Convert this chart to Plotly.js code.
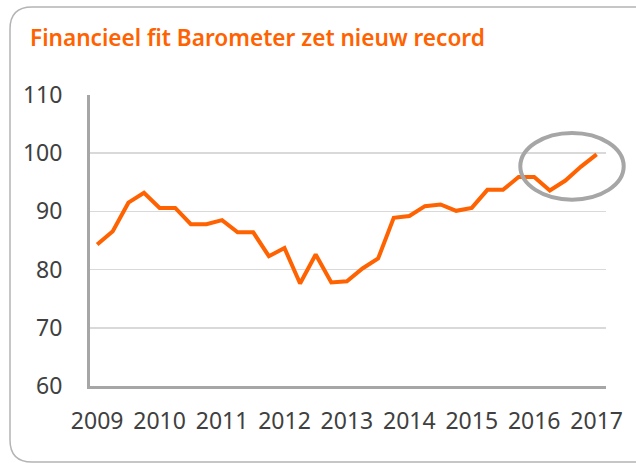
<!DOCTYPE html>
<html>
<head>
<meta charset="utf-8">
<script src="https://cdn.plot.ly/plotly-3.0.1.min.js"></script>
<style>html,body{margin:0;padding:0;background:#fff;}#chart{width:636px;height:463px;}</style>
</head>
<body>
<div id="chart"></div>
<script>
// Quarterly periods, 2009 Q1 .. 2017 Q1
const periods = [
  2009.00, 2009.25, 2009.50, 2009.75,
  2010.00, 2010.25, 2010.50, 2010.75,
  2011.00, 2011.25, 2011.50, 2011.75,
  2012.00, 2012.25, 2012.50, 2012.75,
  2013.00, 2013.25, 2013.50, 2013.75,
  2014.00, 2014.25, 2014.50, 2014.75,
  2015.00, 2015.25, 2015.50, 2015.75,
  2016.00, 2016.25, 2016.50, 2016.75,
  2017.00
];
// Financieel fit Barometer
const barometer = [
  84.3, 86.6, 91.5, 93.2,
  90.6, 90.6, 87.8, 87.8,
  88.5, 86.4, 86.4, 82.3,
  83.7, 77.6, 82.6, 77.8,
  78.0, 80.2, 81.9, 88.9,
  89.2, 90.9, 91.2, 90.1,
  90.6, 93.7, 93.7, 95.9,
  95.9, 93.6, 95.3, 97.7,
  99.8
];
const yearTicks = [2009, 2010, 2011, 2012, 2013, 2014, 2015, 2016, 2017];
const yearLabels = ['2009','2010','2011','2012','2013','2014','2015','2016','2017'];
const yTicks = [60, 70, 80, 90, 100, 110];
const titleText = 'Financieel fit Barometer zet nieuw record';

const W = 636, H = 463;
const M = {l: 90, r: 30, t: 95, b: 77};
const PW = W - M.l - M.r, PH = H - M.t - M.b;
const px = x => (x - M.l) / PW;
const py = y => (H - M.b - y) / PH;

const border = 'M ' + px(640) + ',' + py(7) +
  ' L ' + px(32) + ',' + py(7) +
  ' Q ' + px(10) + ',' + py(7) + ' ' + px(10) + ',' + py(29) +
  ' L ' + px(10) + ',' + py(440) +
  ' Q ' + px(10) + ',' + py(462) + ' ' + px(32) + ',' + py(462) +
  ' L ' + px(640) + ',' + py(462);

const textFont = 'Noto Sans, Open Sans, sans-serif';

Plotly.newPlot('chart', [{
  x: periods,
  y: barometer,
  type: 'scatter',
  mode: 'lines',
  line: {color: '#FF6200', width: 4},
  hoverinfo: 'x+y'
}], {
  width: W, height: H,
  margin: M,
  paper_bgcolor: '#ffffff',
  plot_bgcolor: '#ffffff',
  showlegend: false,
  title: {
    text: titleText,
    font: {family: textFont, size: 22.6, color: '#FF6200', weight: 600},
    xref: 'container', yref: 'container',
    x: 30 / W, xanchor: 'left',
    y: 1 - 38 / H, yanchor: 'middle'
  },
  xaxis: {
    range: [2008.885, 2017.15],
    tickmode: 'array', tickvals: yearTicks, ticktext: yearLabels,
    showgrid: false, zeroline: false,
    showline: true, linecolor: '#a6a6a6', linewidth: 3,
    ticks: '', ticklabelstandoff: 12,
    tickfont: {family: textFont, size: 23, color: '#404040'}
  },
  yaxis: {
    range: [60, 110],
    tickmode: 'array', tickvals: yTicks,
    showgrid: true, gridcolor: '#d9d9d9', gridwidth: 1.5,
    zeroline: false,
    showline: true, linecolor: '#a6a6a6', linewidth: 3,
    ticks: '', ticklabelstandoff: 20,
    tickfont: {family: textFont, size: 23, color: '#404040'}
  },
  shapes: [
    {type: 'circle', xref: 'paper', yref: 'paper',
     x0: px(520.3), x1: px(623.7), y0: py(199.7), y1: py(133),
     line: {color: '#a6a6a6', width: 4}},
    {type: 'path', xref: 'paper', yref: 'paper', path: border,
     line: {color: '#b4b4b4', width: 1.5}}
  ]
}, {displayModeBar: false, staticPlot: true});
</script>
</body>
</html>
